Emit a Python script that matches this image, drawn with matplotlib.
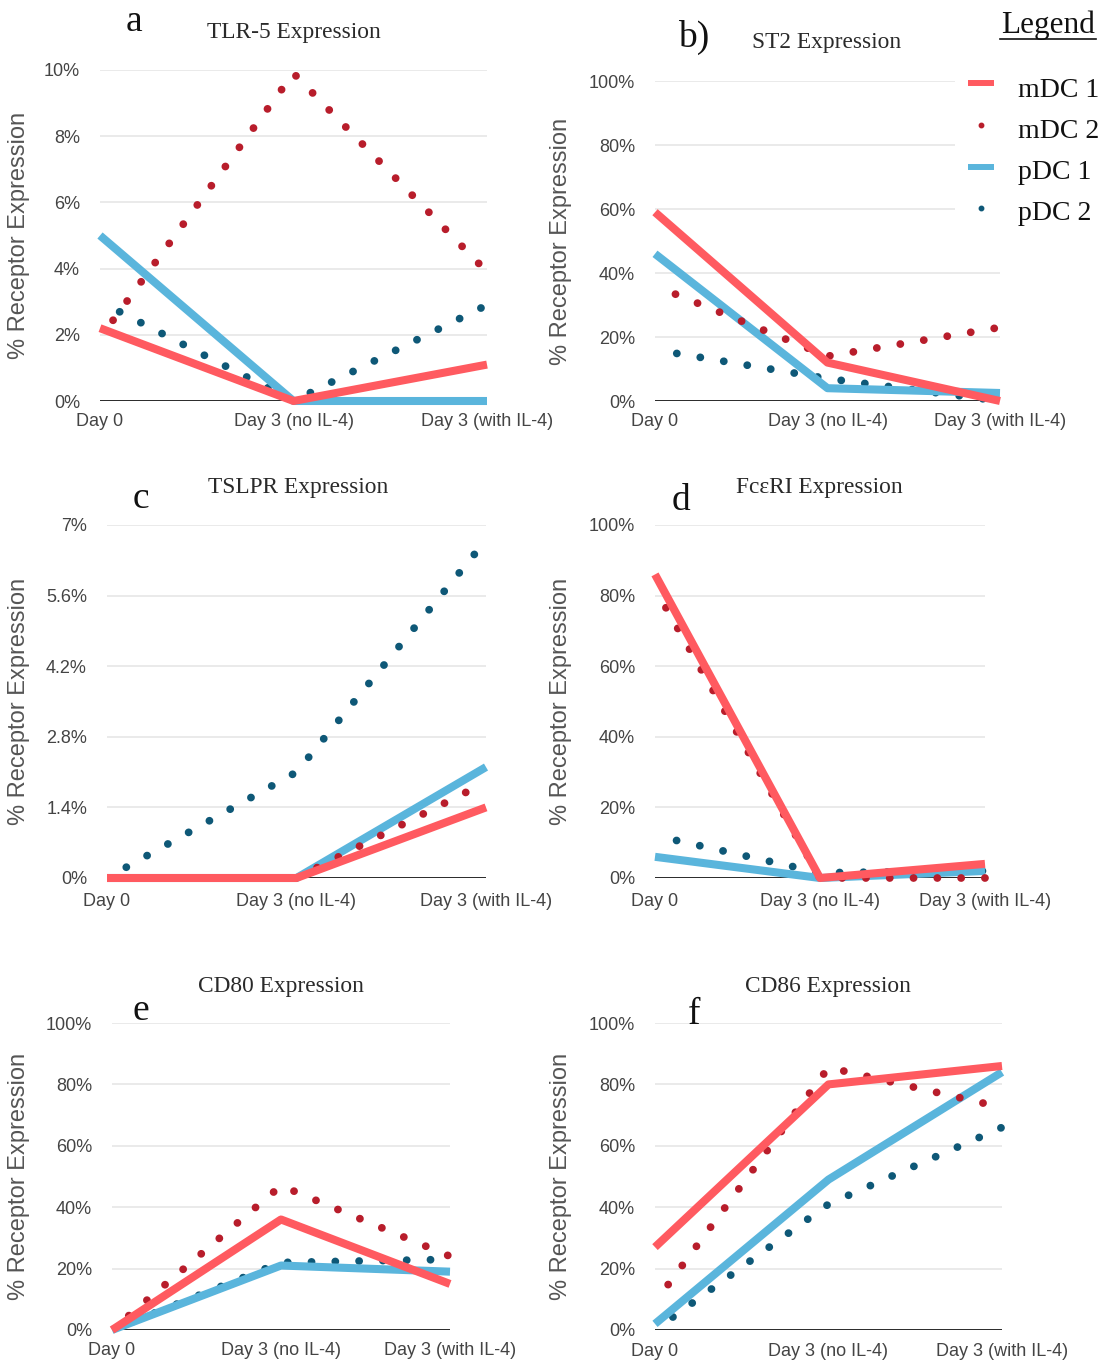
import matplotlib
matplotlib.use("Agg")
import matplotlib.pyplot as plt
from matplotlib.lines import Line2D
from matplotlib.patches import Rectangle

# ---------------------------------------------------------------- data
categories = ["Day 0", "Day 3 (no IL-4)", "Day 3 (with IL-4)"]
series_names = ["mDC 1", "mDC 2", "pDC 1", "pDC 2"]

# TLR-5 (% receptor expression)
tlr5_mdc1 = [2.2, 0.0, 1.1]
tlr5_mdc2 = [1.9, 9.9, 3.9]
tlr5_pdc1 = [5.0, 0.0, 0.0]
tlr5_pdc2 = [3.0, 0.0, 2.9]
tlr5_ticks = [0, 2, 4, 6, 8, 10]

# ST2
st2_mdc1 = [59, 12, 0]
st2_mdc2 = [36, 14, 23]
st2_pdc1 = [46, 4, 2.5]
st2_pdc2 = [16, 7, 0]
st2_ticks = [0, 20, 40, 60, 80, 100]

# TSLPR
tslpr_mdc1 = [0.0, 0.0, 1.4]
tslpr_mdc2 = [0.0, 0.0, 1.9]
tslpr_pdc1 = [0.0, 0.0, 2.2]
tslpr_pdc2 = [0.0, 2.1, 6.7]
tslpr_ticks = [0, 1.4, 2.8, 4.2, 5.6, 7]

# FceRI
fceri_mdc1 = [86, 0, 4]
fceri_mdc2 = [82, 0, 0]
fceri_pdc1 = [6, 0, 2]
fceri_pdc2 = [12, 1.5, 2]
fceri_ticks = [0, 20, 40, 60, 80, 100]

# CD80
cd80_mdc1 = [0, 36, 15]
cd80_mdc2 = [0, 47, 24]
cd80_pdc1 = [0, 21, 19]
cd80_pdc2 = [0, 22, 23]
cd80_ticks = [0, 20, 40, 60, 80, 100]

# CD86
cd86_mdc1 = [27, 80, 86]
cd86_mdc2 = [9, 85.5, 72.5]
cd86_pdc1 = [2, 49, 84]
cd86_pdc2 = [0, 41, 66]
cd86_ticks = [0, 20, 40, 60, 80, 100]

# ---------------------------------------------------------------- style
W, H, DPI = 1108, 1366, 100
SANS = "Liberation Sans"
SERIF = "Liberation Serif"
TICK_COLOR = "#444444"
COLORS = {"mDC 1": "#ff5a60", "mDC 2": "#b81d2b",
          "pDC 1": "#5ab5dc", "pDC 2": "#0e5877"}
SOLID_LW = 5.8
DOT_LW = 5.6
DOT_STYLE = (0.22, (0.01, 3.05))


def fx(x):
    return x / W


def fy(y):
    return 1 - y / H


fig = plt.figure(figsize=(W / DPI, H / DPI), dpi=DPI)
fig.patch.set_facecolor("white")


def pct(v):
    return f"{v:g}%"


def draw_panel(box, ticks, values, title, title_xy, letter, letter_xy,
               ylabel_x, xpad):
    x0, x1, ytop, ybot = box
    ax = fig.add_axes([fx(x0), fy(ybot), (x1 - x0) / W, (ybot - ytop) / H])
    ax.set_xlim(0, 2)
    ax.set_ylim(0, ticks[-1])
    for s in ax.spines.values():
        s.set_visible(False)
    ax.set_yticks(ticks)
    ax.set_yticklabels([pct(t) for t in ticks], fontfamily=SANS,
                       fontsize=13, color=TICK_COLOR)
    ax.set_xticks(range(len(categories)))
    ax.set_xticklabels(categories, fontfamily=SANS, fontsize=13,
                       color=TICK_COLOR)
    ax.tick_params(axis="y", length=0, pad=14.4)
    ax.tick_params(axis="x", length=0, pad=xpad)
    ax.grid(axis="y", color="#e4e4e4", lw=1.1)
    ax.set_axisbelow(True)
    ax.axhline(0, color="#1a1a1a", lw=1.3, zorder=1.5)

    xs = list(range(len(categories)))
    mdc1, mdc2, pdc1, pdc2 = values
    ax.plot(xs, pdc2, color=COLORS["pDC 2"], lw=DOT_LW, ls=DOT_STYLE,
            dash_capstyle="round", clip_on=False, zorder=2)
    ax.plot(xs, pdc1, color=COLORS["pDC 1"], lw=SOLID_LW,
            solid_capstyle="butt", solid_joinstyle="round",
            clip_on=False, zorder=3)
    ax.plot(xs, mdc2, color=COLORS["mDC 2"], lw=DOT_LW, ls=DOT_STYLE,
            dash_capstyle="round", clip_on=False, zorder=4)
    ax.plot(xs, mdc1, color=COLORS["mDC 1"], lw=SOLID_LW,
            solid_capstyle="butt", solid_joinstyle="round",
            clip_on=False, zorder=5)

    fig.text(fx(title_xy[0]), fy(title_xy[1]), title, family=SERIF,
             fontsize=16.8, color="#2a2a2a", ha="center", va="baseline")
    fig.text(fx(letter_xy[0]), fy(letter_xy[1]), letter, family=SERIF,
             fontsize=27, color="#111111", ha="center", va="baseline")
    fig.text(fx(ylabel_x), fy((ytop + ybot) / 2), "% Receptor Expression",
             family=SANS, fontsize=17, color="#555555", rotation=90,
             ha="center", va="center")
    return ax


draw_panel((100, 487, 70, 401), tlr5_ticks,
           (tlr5_mdc1, tlr5_mdc2, tlr5_pdc1, tlr5_pdc2),
           "TLR-5 Expression", (294, 38), "a", (134, 31), 19, 8.5)
draw_panel((655, 1000, 81, 401), st2_ticks,
           (st2_mdc1, st2_mdc2, st2_pdc1, st2_pdc2),
           "ST2 Expression", (827, 48), "b)", (694, 47), 561, 9)
draw_panel((107, 486, 525, 878), tslpr_ticks,
           (tslpr_mdc1, tslpr_mdc2, tslpr_pdc1, tslpr_pdc2),
           "TSLPR Expression", (298, 493), "c", (141, 508), 19, 11)
draw_panel((655, 985, 525, 878), fceri_ticks,
           (fceri_mdc1, fceri_mdc2, fceri_pdc1, fceri_pdc2),
           "FcεRI Expression", (819, 493), "d", (681, 510), 561, 11)
draw_panel((112, 450, 1023, 1330), cd80_ticks,
           (cd80_mdc1, cd80_mdc2, cd80_pdc1, cd80_pdc2),
           "CD80 Expression", (281, 992), "e", (141, 1020), 19, 8.5)
draw_panel((655, 1002, 1023, 1330), cd86_ticks,
           (cd86_mdc1, cd86_mdc2, cd86_pdc1, cd86_pdc2),
           "CD86 Expression", (828, 992), "f", (694, 1024), 561, 9.5)

# ---------------------------------------------------------------- legend
fig.add_artist(Rectangle((fx(955), fy(240)), (W - 955) / W, 185 / H,
                         transform=fig.transFigure, facecolor="white",
                         edgecolor="none", zorder=10))
fig.text(fx(1048), fy(33), "Legend", family=SERIF, fontsize=22.5,
         color="#111111", ha="center", va="baseline", zorder=11)
fig.add_artist(Line2D([fx(1000), fx(1096)], [fy(38.5), fy(38.5)],
                      transform=fig.transFigure, color="#111111", lw=1.2,
                      zorder=11))

legend_rows = [97, 138, 179, 220]
marker_rows = [83, 125, 167, 208]
for name, base, my in zip(series_names, legend_rows, marker_rows):
    if name.endswith("1"):
        fig.add_artist(Line2D([fx(968), fx(994)], [fy(my), fy(my)],
                              transform=fig.transFigure,
                              color=COLORS[name], lw=4.3,
                              solid_capstyle="butt", zorder=11))
    else:
        fig.add_artist(Line2D([fx(981)], [fy(my)], transform=fig.transFigure,
                              color=COLORS[name], marker="o", markersize=3.2,
                              ls="none", zorder=11))
    fig.text(fx(1018), fy(base), name, family=SERIF, fontsize=20,
             color="#111111", ha="left", va="baseline", zorder=11)

fig.savefig("out.png", dpi=DPI, facecolor="white")
